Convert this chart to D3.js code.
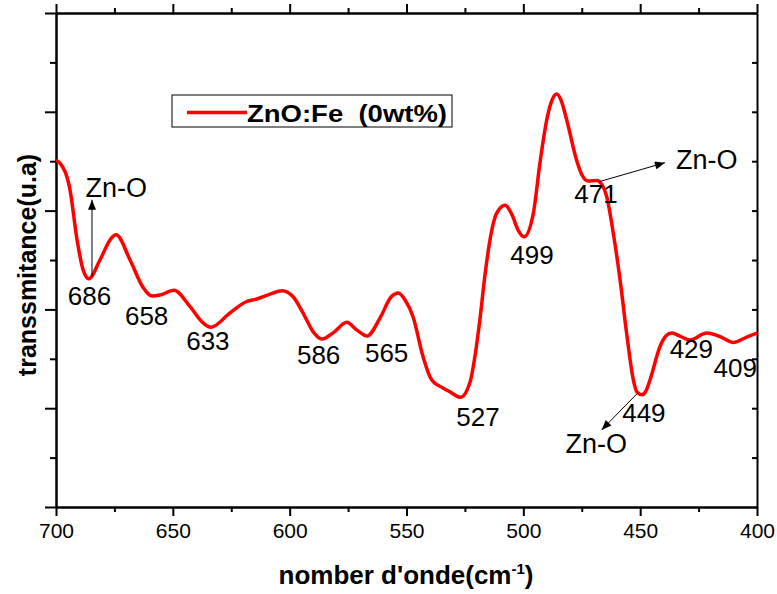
<!DOCTYPE html>
<html>
<head>
<meta charset="utf-8">
<script src="https://cdn.jsdelivr.net/npm/d3@7"></script>
<style>
  body { margin: 0; background: #fff; }
  text { font-family: "Liberation Sans", Arial, sans-serif; fill: #000; }
</style>
</head>
<body>
<svg width="777" height="594"></svg>
<script>
// spectrum ZnO:Fe (0wt%), wavenumber (cm-1) and transmittance (a.u.)
var wavenumber = [700, 698.3, 694.0, 691.0, 688.4, 685.9, 681.2, 676.2, 674.3, 668.3,
  662.8, 658.9, 655.5, 649.5, 642.7, 637.1, 633.7, 625.5, 618.4, 614.1,
  608.4, 603.3, 598.6, 594.3, 590.0, 586.2, 581.0, 575.6, 571.2, 566.9,
  561.3, 556.6, 553.5, 550.6, 547.2, 542.9, 539.2, 534.4, 531.4, 526.9,
  522.8, 520.3, 518.6, 516.4, 514.3, 511.4, 507.8, 504.8, 502.3, 499.7,
  495.7, 492.9, 490.0, 487.7, 485.7, 483.9, 481.4, 477.2, 474.9, 472.3,
  468.6, 466.3, 464.3, 461.5, 458.6, 455.8, 452.9, 451.4, 449.2, 447.5,
  445.8, 441.5, 439.0, 436.4, 433.0, 428.7, 421.5, 415.8, 410.1, 404.4, 400];
var transmittance = [7.02, 6.96, 6.42, 5.41, 4.80, 4.62, 5.00, 5.45, 5.51, 5.00,
  4.45, 4.27, 4.29, 4.39, 4.06, 3.73, 3.64, 3.93, 4.16, 4.21,
  4.31, 4.38, 4.26, 3.93, 3.55, 3.40, 3.54, 3.74, 3.58, 3.46,
  3.83, 4.25, 4.33, 4.19, 3.85, 3.04, 2.57, 2.41, 2.33, 2.22,
  2.53, 3.18, 3.79, 4.70, 5.40, 5.95, 6.11, 5.91, 5.61, 5.47,
  5.95, 6.96, 7.83, 8.24, 8.36, 8.24, 7.83, 7.02, 6.72, 6.60,
  6.61, 6.52, 6.28, 5.54, 4.60, 3.52, 2.57, 2.33, 2.27, 2.35,
  2.57, 3.25, 3.46, 3.52, 3.46, 3.38, 3.52, 3.45, 3.33, 3.44, 3.52];

var xMajor = [700, 650, 600, 550, 500, 450, 400];
var xMinor = [675, 625, 575, 525, 475, 425];
var yMajor = [0, 2, 4, 6, 8, 10];
var yMinor = [1, 3, 5, 7, 9];

var labelText = ["686", "658", "633", "586", "565", "527", "499", "471", "449", "429", "409", "Zn-O", "Zn-O", "Zn-O"];
var labelX = [685.7, 661.2, 635.0, 587.6, 558.5, 519.4, 496.3, 468.9, 448.4, 428.1, 409.3, 674.2, 421.5, 468.8];
var labelY = [4.09, 3.68, 3.18, 2.90, 2.94, 1.63, 4.92, 6.16, 1.73, 3.01, 2.64, 6.28, 6.84, 1.09];

// arrows: [x1, y1, x2, y2] in data units, head at the second point
var arrows = [
  [684.6, 4.66, 684.6, 6.22],
  [467.2, 6.59, 439.4, 6.97],
  [451.2, 2.30, 466.5, 1.56]
];

var seriesName = "ZnO:Fe  (0wt%)";

var svg = d3.select("svg");
var margin = {left: 56, top: 13, right: 20, bottom: 87};
var width = 777 - margin.left - margin.right;
var height = 594 - margin.top - margin.bottom;

var x = d3.scaleLinear().domain([700, 400]).range([0, width]);
var y = d3.scaleLinear().domain([0, 10]).range([height, 0]);

var g = svg.append("g").attr("transform", "translate(" + margin.left + "," + margin.top + ")");

svg.append("defs").append("marker")
  .attr("id", "head")
  .attr("viewBox", "0 0 10 8")
  .attr("refX", 10).attr("refY", 4)
  .attr("markerWidth", 11).attr("markerHeight", 8)
  .attr("markerUnits", "userSpaceOnUse")
  .attr("orient", "auto")
  .append("path").attr("d", "M0,0L10,4L0,8Z").attr("fill", "#000");

function styleAxis(sel) {
  sel.selectAll(".domain").attr("stroke", "#000").attr("stroke-width", 2);
  sel.selectAll(".tick line").attr("stroke", "#000").attr("stroke-width", 2);
  sel.selectAll(".tick text")
    .style("font-family", "'Liberation Sans', Arial, sans-serif")
    .style("font-size", "21px").attr("fill", "#000");
}

// bottom axis
g.append("g").attr("transform", "translate(0," + height + ")")
  .call(d3.axisBottom(x).tickValues(xMajor).tickSize(9).tickPadding(7).tickSizeOuter(0))
  .call(styleAxis);
g.append("g").attr("transform", "translate(0," + height + ")")
  .call(d3.axisBottom(x).tickValues(xMinor).tickSize(5).tickFormat("").tickSizeOuter(0))
  .call(styleAxis);

// top axis
g.append("g").call(d3.axisTop(x).tickValues(xMajor).tickSize(9).tickFormat("").tickSizeOuter(0)).call(styleAxis);
g.append("g").call(d3.axisTop(x).tickValues(xMinor).tickSize(5).tickFormat("").tickSizeOuter(0)).call(styleAxis);

// left axis
g.append("g").call(d3.axisLeft(y).tickValues(yMajor).tickSize(11).tickFormat("").tickSizeOuter(0)).call(styleAxis);
g.append("g").call(d3.axisLeft(y).tickValues(yMinor).tickSize(6).tickFormat("").tickSizeOuter(0)).call(styleAxis);

// right axis, ticks inside
g.append("g").attr("transform", "translate(" + width + ",0)")
  .call(d3.axisRight(y).tickValues(yMinor.concat([2, 4, 6, 8])).tickSize(-5).tickFormat("").tickSizeOuter(0))
  .call(styleAxis);

// curve
var line = d3.line()
  .x(function(d, i) { return x(wavenumber[i]); })
  .y(function(d) { return y(d); })
  .curve(d3.curveMonotoneX);

g.append("path")
  .datum(transmittance)
  .attr("fill", "none")
  .attr("stroke", "#ff0000")
  .attr("stroke-width", 3.5)
  .attr("stroke-linejoin", "round")
  .attr("d", line);

// arrows
g.selectAll(".arrow").data(arrows).enter().append("line")
  .attr("x1", function(d) { return x(d[0]); })
  .attr("y1", function(d) { return y(d[1]); })
  .attr("x2", function(d) { return x(d[2]); })
  .attr("y2", function(d) { return y(d[3]); })
  .attr("stroke", "#000").attr("stroke-width", 1)
  .attr("marker-end", "url(#head)");

// peak labels
g.selectAll(".lab").data(labelText).enter().append("text")
  .attr("x", function(d, i) { return x(labelX[i]); })
  .attr("y", function(d, i) { return y(labelY[i]); })
  .attr("text-anchor", "middle")
  .style("font-size", function(d) { return d == "Zn-O" ? "27px" : "26px"; })
  .text(function(d) { return d; });

// legend
var lg = svg.append("g");
lg.append("rect").attr("x", 172).attr("y", 95).attr("width", 280).attr("height", 32)
  .attr("fill", "#fff").attr("stroke", "#000").attr("stroke-width", 1);
lg.append("line").attr("x1", 187).attr("x2", 247).attr("y1", 112.5).attr("y2", 112.5)
  .attr("stroke", "#ff0000").attr("stroke-width", 3.5);
lg.append("text").attr("x", 247).attr("y", 121.5)
  .style("font-size", "24px").style("font-weight", "bold")
  .attr("xml:space", "preserve")
  .attr("textLength", 200).attr("lengthAdjust", "spacingAndGlyphs")
  .text(seriesName);

// axis titles
svg.append("text")
  .attr("x", 406).attr("y", 584)
  .attr("text-anchor", "middle")
  .style("font-size", "26px").style("font-weight", "bold")
  .text("nomber d'onde(cm")
  .append("tspan").attr("dy", -10).style("font-size", "15px").text("-1")
  .select(function() { return this.parentNode; })
  .append("tspan").attr("dy", 10).text(")");

svg.append("text")
  .attr("transform", "translate(36,265) rotate(-90)")
  .attr("text-anchor", "middle")
  .style("font-size", "25px").style("font-weight", "bold")
  .text("transsmitance(u.a)");
</script>
</body>
</html>
